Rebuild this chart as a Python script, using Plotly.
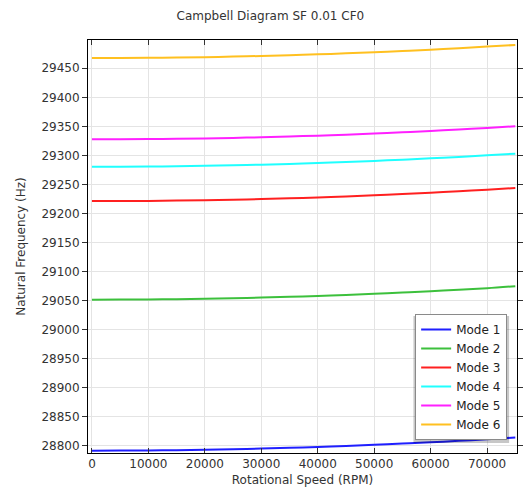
import plotly.graph_objects as go

# Rotational speed samples (RPM)
speed_rpm = [0, 5000, 10000, 15000, 20000, 25000, 30000, 35000, 40000,
             45000, 50000, 55000, 60000, 65000, 70000, 75000]

# Natural frequencies (Hz) of each mode versus speed
mode1 = [28791.4, 28791.5, 28791.8, 28792.3, 28793.0, 28793.9, 28795.0, 28796.3,
         28797.8, 28799.5, 28801.4, 28803.6, 28805.9, 28808.4, 28811.1, 28814.0]
mode2 = [29051.5, 29051.6, 29051.9, 29052.4, 29053.1, 29054.0, 29055.1, 29056.4,
         29057.9, 29059.6, 29061.5, 29063.7, 29066.0, 29068.5, 29071.2, 29074.8]
mode3 = [29221.2, 29221.3, 29221.6, 29222.1, 29222.8, 29223.7, 29224.8, 29226.1,
         29227.6, 29229.3, 29231.2, 29233.4, 29235.7, 29238.2, 29240.9, 29243.8]
mode4 = [29280.4, 29280.5, 29280.8, 29281.3, 29282.0, 29282.9, 29284.0, 29285.3,
         29286.8, 29288.5, 29290.4, 29292.6, 29294.9, 29297.4, 29300.1, 29303.0]
mode5 = [29327.6, 29327.7, 29328.0, 29328.5, 29329.2, 29330.1, 29331.2, 29332.5,
         29334.0, 29335.7, 29337.6, 29339.8, 29342.1, 29344.6, 29347.3, 29350.2]
mode6 = [29467.6, 29467.7, 29468.0, 29468.5, 29469.2, 29470.1, 29471.2, 29472.5,
         29474.0, 29475.7, 29477.6, 29479.8, 29482.1, 29484.6, 29487.3, 29490.2]

mode_names = ["Mode 1", "Mode 2", "Mode 3", "Mode 4", "Mode 5", "Mode 6"]
mode_values = [mode1, mode2, mode3, mode4, mode5, mode6]
mode_colors = ["#1f1fff", "#3cc03c", "#ff2020", "#20ffff", "#ff20ff", "#ffc020"]

x_ticks = [0, 10000, 20000, 30000, 40000, 50000, 60000, 70000]
y_ticks = [28800, 28850, 28900, 28950, 29000, 29050, 29100, 29150, 29200,
           29250, 29300, 29350, 29400, 29450]

FONT = "DejaVu Sans"
TEXT = "#333333"

fig = go.Figure()
for name, vals, col in zip(mode_names, mode_values, mode_colors):
    fig.add_trace(go.Scatter(x=speed_rpm, y=vals, mode="lines", name=name,
                             line=dict(color=col, width=2, shape="spline",
                                       smoothing=1.0)))

# Plot-area geometry in pixels, used to place the legend shadow
L, R, T, B = 88, 523, 40, 453
W, H = R - L, B - T


def px_x(p):
    return (p - L) / W


def px_y(p):
    return (B - p) / H


fig.add_shape(type="rect", xref="paper", yref="paper",
              x0=px_x(418), x1=px_x(515), y0=px_y(443), y1=px_y(316),
              fillcolor="rgba(0,0,0,0.22)", line=dict(width=0), layer="above")

fig.update_layout(
    width=523, height=490,
    margin=dict(l=L, r=523 - R, t=T, b=490 - B),
    paper_bgcolor="white", plot_bgcolor="white",
    font=dict(family=FONT, size=12, color=TEXT),
    title=dict(text="Campbell Diagram SF 0.01 CF0", x=0.517, xanchor="center",
               y=1 - 16 / 490, yanchor="middle",
               font=dict(family=FONT, size=12, color=TEXT)),
    showlegend=True,
    legend=dict(x=px_x(513), xanchor="right", y=px_y(440), yanchor="bottom",
                bgcolor="white", bordercolor="#8a8a8a", borderwidth=1,
                font=dict(family=FONT, size=12, color="#222222"),
                tracegroupgap=0, itemwidth=30),
    xaxis=dict(range=[-700, 75300], tickvals=x_ticks,
               ticktext=[str(v) for v in x_ticks],
               title=dict(text="Rotational Speed (RPM)", standoff=5,
                          font=dict(family=FONT, size=12, color=TEXT)),
               showline=True, linecolor="black", linewidth=1, mirror="ticks",
               ticks="inside", ticklen=5, tickcolor="#333333",
               showgrid=True, gridcolor="#e4e4e4", gridwidth=1,
               zeroline=False, tickfont=dict(family=FONT, size=12, color=TEXT)),
    yaxis=dict(range=[28787.4, 29498.7], tickvals=y_ticks,
               ticktext=[str(v) for v in y_ticks],
               title=dict(text="Natural Frequency (Hz)", standoff=13,
                          font=dict(family=FONT, size=12, color=TEXT)),
               showline=True, linecolor="black", linewidth=1, mirror="ticks",
               ticks="outside", ticklen=5, tickcolor="#333333",
               showgrid=True, gridcolor="#e4e4e4", gridwidth=1,
               zeroline=False, tickfont=dict(family=FONT, size=12, color=TEXT)),
)

fig.write_html("out.html")
